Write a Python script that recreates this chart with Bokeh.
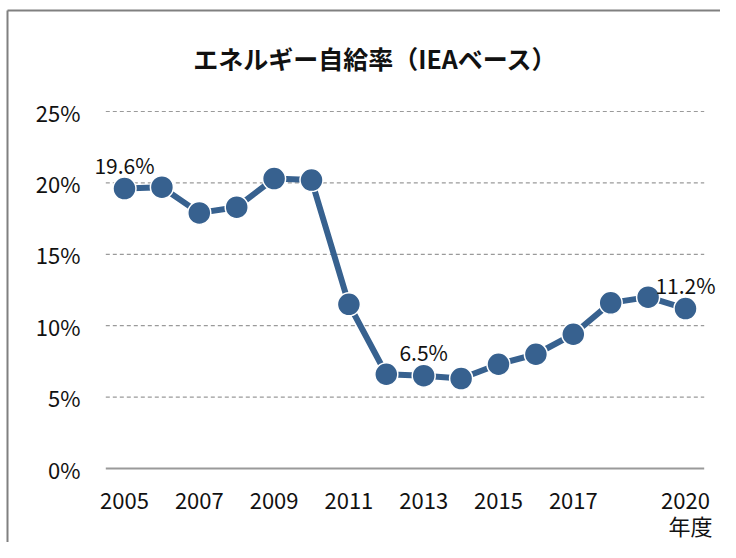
from bokeh.plotting import figure
from bokeh.models import ColumnDataSource, Range1d
from bokeh.core.properties import value
from bokeh.embed import file_html
from bokeh.resources import INLINE

years = list(range(2005, 2021))
rates = [19.6, 19.7, 17.9, 18.3, 20.3, 20.2, 11.5, 6.6, 6.5, 6.3, 7.3, 8.0, 9.4, 11.6, 12.0, 11.2]
label_years = [2005, 2013, 2020]
label_texts = ["19.6%", "6.5%", "11.2%"]
x_ticks = [2005, 2007, 2009, 2011, 2013, 2015, 2017, 2020]
x_tick_labels = ["2005", "2007", "2009", "2011", "2013", "2015", "2017", "2020"]
y_ticks = [0, 5, 10, 15, 20, 25]
y_tick_labels = ["0%", "5%", "10%", "15%", "20%", "25%"]
title_text = "エネルギー自給率（IEAベース）"
unit_text = "年度"

FONT = "Noto Sans CJK JP"
COLOR = "#37618f"
GRID = "#9a9a9a"
INK = "#111111"

# the plot frame fills the whole canvas: 37.4 px per year, 14.28 px per percent
W, H = 720, 542
PX_X, PX_Y = 37.4, 14.28
X0 = years[0] - 124 / PX_X
Y1 = 468 / PX_Y
x_range = Range1d(X0, X0 + W / PX_X)
y_range = Range1d(Y1 - H / PX_Y, Y1)

def sx(px):
    return X0 + px / PX_X

def sy(py):
    return Y1 - py / PX_Y

p = figure(width=W, height=H, output_backend="svg", toolbar_location=None,
           x_range=x_range, y_range=y_range,
           min_border_left=0, min_border_right=0, min_border_top=0, min_border_bottom=0)
p.outline_line_color = None
p.background_fill_color = "white"
p.border_fill_color = "white"
p.xaxis.visible = False
p.yaxis.visible = False
p.xgrid.grid_line_color = None
p.ygrid.grid_line_color = None

# outer chart border (left and top edges)
p.segment(x0=[sx(7), sx(7)], y0=[y_range.start, sy(10)], x1=[sx(7), x_range.end], y1=[sy(10), sy(10)],
          line_color="#808080", line_width=2)

# title
p.text(x=[sx(375)], y=[sy(57)], text=[title_text], text_font=value(FONT), text_font_size="25px",
       text_font_style="bold", text_align="center", text_baseline="middle", text_color=INK)

# horizontal gridlines (dashed) and the solid zero line
xl, xr = years[0] - 0.5, years[-1] + 0.5
gsrc = ColumnDataSource(dict(x0=[xl] * (len(y_ticks) - 1), x1=[xr] * (len(y_ticks) - 1), y=y_ticks[1:]))
p.segment("x0", "y", "x1", "y", source=gsrc, line_color=GRID, line_width=1.2, line_dash="4 3")
p.segment(x0=[xl], y0=[y_ticks[0]], x1=[xr], y1=[y_ticks[0]], line_color=GRID, line_width=2)

# y tick labels
ysrc = ColumnDataSource(dict(x=[sx(80)] * len(y_ticks), y=y_ticks, t=y_tick_labels))
p.text("x", "y", text="t", source=ysrc, text_font=value(FONT), text_font_size="22px",
       text_align="right", text_baseline="middle", text_color=INK)

# x tick labels and unit
xsrc = ColumnDataSource(dict(x=x_ticks, y=[sy(500)] * len(x_ticks), t=x_tick_labels))
p.text("x", "y", text="t", source=xsrc, text_font=value(FONT), text_font_size="22px",
       text_align="center", text_baseline="middle", text_color=INK)
p.text(x=[sx(712)], y=[sy(540)], text=[unit_text], text_font=value(FONT), text_font_size="22px",
       text_align="right", text_baseline="bottom", text_color=INK)

# data
src = ColumnDataSource(dict(x=years, y=rates))
p.line("x", "y", source=src, line_color=COLOR, line_width=6)
p.scatter("x", "y", source=src, size=23, fill_color=COLOR, line_color="white", line_width=1.5)

lab_vals = [rates[years.index(y)] for y in label_years]
lsrc = ColumnDataSource(dict(x=label_years, y=lab_vals, t=label_texts))
p.text("x", "y", text="t", source=lsrc, text_font=value(FONT), text_font_size="21px",
       text_align="center", text_baseline="middle", y_offset=-24, text_color=INK)

open("out.html", "w").write(file_html(p, INLINE))
